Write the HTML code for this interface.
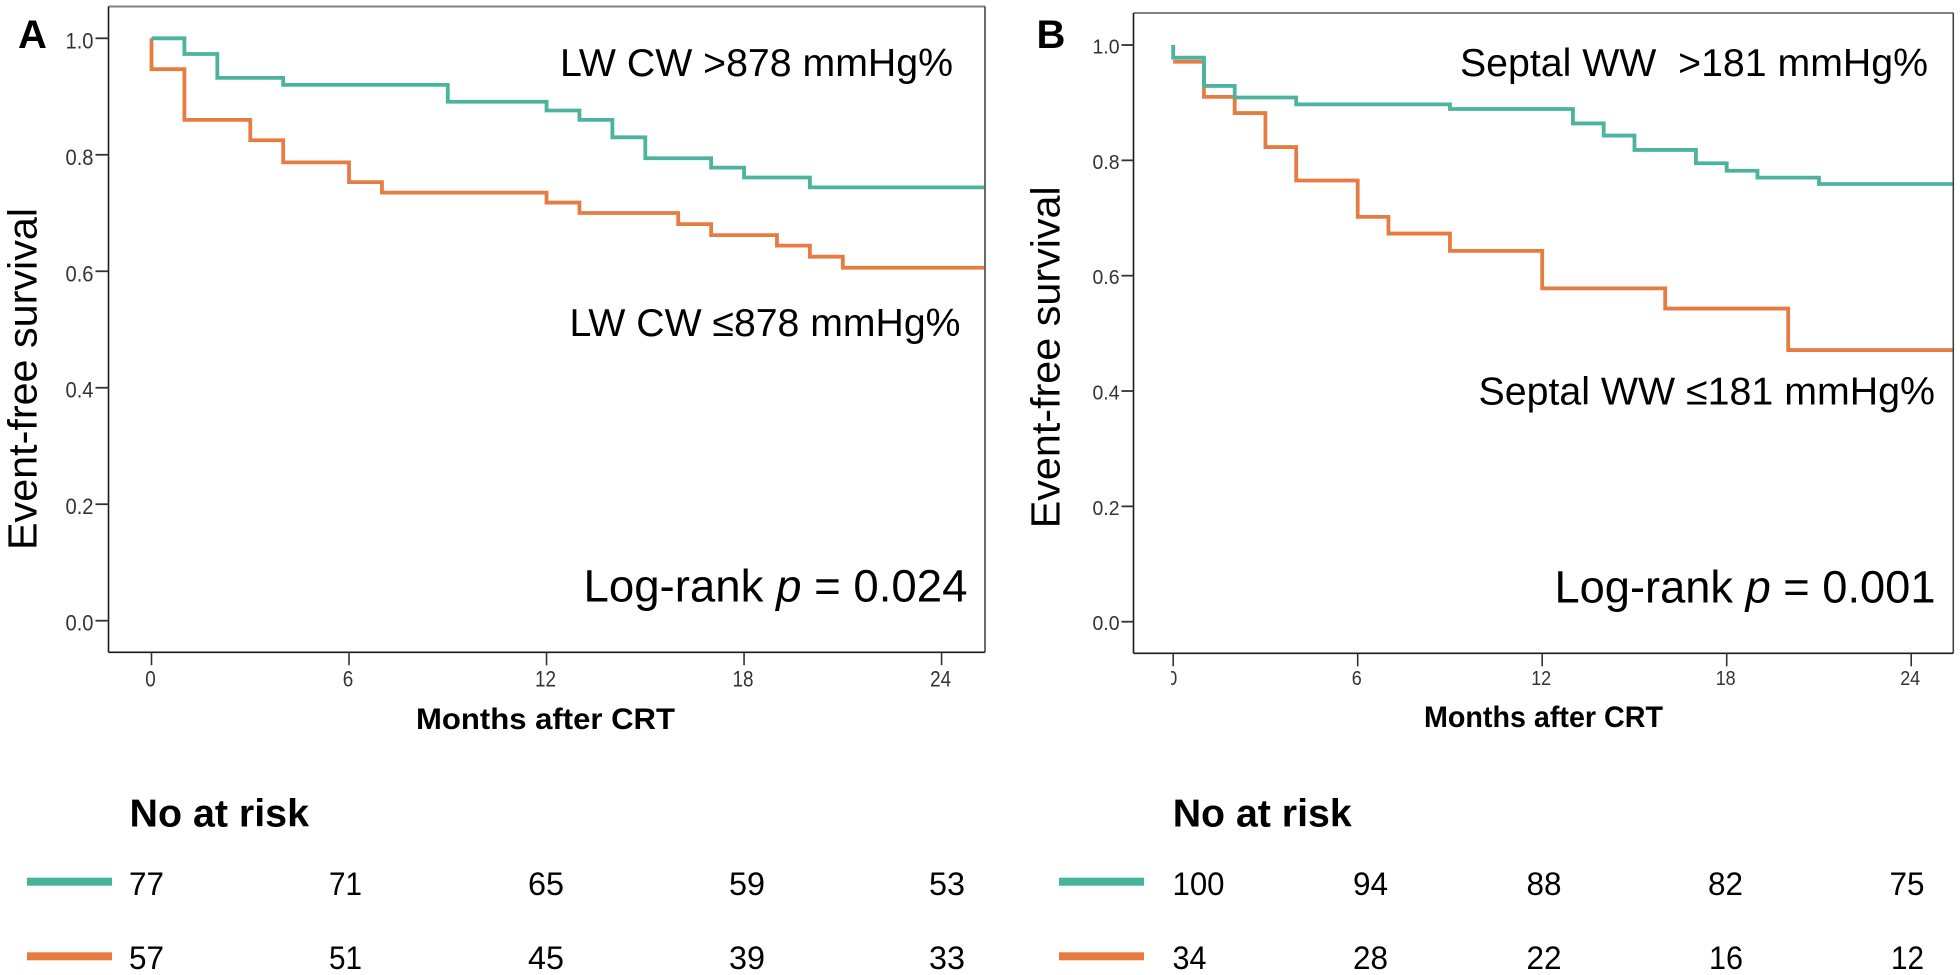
<!DOCTYPE html>
<html lang="en">
<head>
<meta charset="utf-8">
<title>Event-free survival curves</title>
<style>
html,body{margin:0;padding:0;background:#fff;width:1960px;height:975px;overflow:hidden}
svg{display:block}
text{font-family:"Liberation Sans",Arial,sans-serif;fill:#000}
.tick{fill:#333}
</style>
</head>
<body>
<svg id="figure" xmlns="http://www.w3.org/2000/svg" width="1960" height="975" viewBox="0 0 1960 975">
  <rect x="0" y="0" width="1960" height="975" fill="#fff"/>

  <g id="panel-a">
    <text x="18" y="48" font-size="40" font-weight="700">A</text>
    <text transform="translate(36.5 550) rotate(-90)" font-size="41" textLength="342" lengthAdjust="spacingAndGlyphs">Event-free survival</text>
    <text x="416" y="729" font-size="30" font-weight="700" textLength="259" lengthAdjust="spacingAndGlyphs">Months after CRT</text>
    <text x="560" y="76" font-size="39" textLength="393" lengthAdjust="spacingAndGlyphs">LW CW &gt;878 mmHg%</text>
    <text x="569.5" y="336" font-size="39" textLength="391" lengthAdjust="spacingAndGlyphs">LW CW ≤878 mmHg%</text>
    <text x="583.5" y="601.7" font-size="45" textLength="384" lengthAdjust="spacingAndGlyphs">Log-rank <tspan font-style="italic">p</tspan> = 0.024</text>

    <text x="129.5" y="826.7" font-size="39" font-weight="700" textLength="179.5" lengthAdjust="spacingAndGlyphs">No at risk</text>
    <rect x="27" y="877.7" width="85" height="8" fill="#45b39c"/>
    <rect x="27" y="952.3" width="85" height="8" fill="#e77b3f"/>
    <g font-size="32.5">
      <text x="129" y="895" textLength="35" lengthAdjust="spacingAndGlyphs">77</text>
      <text x="329" y="895" textLength="33" lengthAdjust="spacingAndGlyphs">71</text>
      <text x="528" y="895" textLength="36" lengthAdjust="spacingAndGlyphs">65</text>
      <text x="729" y="895" textLength="36" lengthAdjust="spacingAndGlyphs">59</text>
      <text x="929" y="895" textLength="36" lengthAdjust="spacingAndGlyphs">53</text>
    </g>
    <g font-size="32.5">
      <text x="129" y="969" textLength="35" lengthAdjust="spacingAndGlyphs">57</text>
      <text x="329" y="969" textLength="33" lengthAdjust="spacingAndGlyphs">51</text>
      <text x="528" y="969" textLength="36" lengthAdjust="spacingAndGlyphs">45</text>
      <text x="729" y="969" textLength="36" lengthAdjust="spacingAndGlyphs">39</text>
      <text x="929" y="969" textLength="36" lengthAdjust="spacingAndGlyphs">33</text>
    </g>
  </g>

  <g id="panel-b">
    <text x="1036.5" y="48" font-size="40" font-weight="700">B</text>
    <text transform="translate(1059.5 528.3) rotate(-90)" font-size="41" textLength="342" lengthAdjust="spacingAndGlyphs">Event-free survival</text>
    <text x="1424" y="727" font-size="30" font-weight="700" textLength="239" lengthAdjust="spacingAndGlyphs">Months after CRT</text>
    <text x="1460" y="76" font-size="39" textLength="468" lengthAdjust="spacingAndGlyphs" xml:space="preserve" style="white-space:pre">Septal WW  &gt;181 mmHg%</text>
    <text x="1478.5" y="404.3" font-size="39" textLength="456.5" lengthAdjust="spacingAndGlyphs">Septal WW ≤181 mmHg%</text>
    <text x="1554.5" y="602.3" font-size="45" textLength="381" lengthAdjust="spacingAndGlyphs">Log-rank <tspan font-style="italic">p</tspan> = 0.001</text>

    <text x="1172.7" y="826.7" font-size="39" font-weight="700" textLength="179" lengthAdjust="spacingAndGlyphs">No at risk</text>
    <rect x="1059" y="877.7" width="85" height="8" fill="#45b39c"/>
    <rect x="1059" y="952.3" width="85" height="8" fill="#e77b3f"/>
    <g font-size="32.5">
      <text x="1172.5" y="895" textLength="52" lengthAdjust="spacingAndGlyphs">100</text>
      <text x="1353" y="895" textLength="35" lengthAdjust="spacingAndGlyphs">94</text>
      <text x="1526.5" y="895" textLength="35" lengthAdjust="spacingAndGlyphs">88</text>
      <text x="1708" y="895" textLength="35" lengthAdjust="spacingAndGlyphs">82</text>
      <text x="1889.5" y="895" textLength="35" lengthAdjust="spacingAndGlyphs">75</text>
    </g>
    <g font-size="32.5">
      <text x="1172.5" y="969" textLength="34" lengthAdjust="spacingAndGlyphs">34</text>
      <text x="1353" y="969" textLength="35" lengthAdjust="spacingAndGlyphs">28</text>
      <text x="1526.5" y="969" textLength="35" lengthAdjust="spacingAndGlyphs">22</text>
      <text x="1709" y="969" textLength="34" lengthAdjust="spacingAndGlyphs">16</text>
      <text x="1891" y="969" textLength="33" lengthAdjust="spacingAndGlyphs">12</text>
    </g>
  </g>
</svg>

<script>
// Shared tick labels
const xTicks = [0, 6, 12, 18, 24];
const yTicks = [0, 0.2, 0.4, 0.6, 0.8, 1.0];

// Panel A: step curves (month of each drop, survival after the drop)
const aHighMonths = [0, 1, 2, 4, 9, 12, 13, 14, 15, 17, 18, 20];
const aHighSurvival = [1.0, 0.973, 0.932, 0.920, 0.891, 0.876, 0.860, 0.830, 0.794, 0.778, 0.761, 0.744];
const aLowMonths = [0, 0, 1, 3, 4, 6, 7, 12, 13, 16, 17, 19, 20, 21];
const aLowSurvival = [1.0, 0.947, 0.860, 0.825, 0.787, 0.753, 0.735, 0.718, 0.700, 0.681, 0.662, 0.644, 0.625, 0.606];

// Panel B: step curves
const bHighMonths = [0, 0, 1, 2, 4, 9, 13, 14, 15, 17, 18, 19, 21];
const bHighSurvival = [1.0, 0.978, 0.929, 0.909, 0.897, 0.889, 0.864, 0.843, 0.818, 0.795, 0.782, 0.770, 0.759];
const bLowMonths = [0, 1, 2, 3, 4, 6, 7, 9, 12, 16, 20];
const bLowSurvival = [0.971, 0.910, 0.882, 0.823, 0.765, 0.702, 0.673, 0.643, 0.578, 0.543, 0.471];

const SVG_NS = 'http://www.w3.org/2000/svg';

function makeAxes(left, top, right, bottom, x0, monthPx, y1, y0) {
  return {
    left: left, top: top, right: right, bottom: bottom,
    x: function (month) { return x0 + month * monthPx; },
    y: function (value) { return y0 + (y1 - y0) * value; }
  };
}

function addLine(parent, x1, y1, x2, y2, color, width) {
  const el = document.createElementNS(SVG_NS, 'line');
  el.setAttribute('x1', x1);
  el.setAttribute('y1', y1);
  el.setAttribute('x2', x2);
  el.setAttribute('y2', y2);
  el.setAttribute('stroke', color);
  el.setAttribute('stroke-width', width);
  parent.appendChild(el);
  return el;
}

function addTickLabel(parent, x, y, label, anchor, size, length) {
  const el = document.createElementNS(SVG_NS, 'text');
  el.setAttribute('x', x);
  el.setAttribute('y', y);
  el.setAttribute('class', 'tick');
  el.setAttribute('font-size', size);
  el.setAttribute('text-anchor', anchor);
  el.setAttribute('textLength', length);
  el.setAttribute('lengthAdjust', 'spacingAndGlyphs');
  el.textContent = label;
  parent.appendChild(el);
  return el;
}

function drawFrame(parent, ax) {
  const top = addLine(parent, ax.left, ax.top, ax.right, ax.top, '#808080', 2);
  
  
  const right = addLine(parent, ax.right, ax.top, ax.right, ax.bottom, '#3a3a3a', 1.5);
  
  
  const leftAxis = addLine(parent, ax.left, ax.top, ax.left, ax.bottom, '#1a1a1a', 1.6);
  
  
  const bottomAxis = addLine(parent, ax.left, ax.bottom, ax.right, ax.bottom, '#1a1a1a', 1.6);
  
  
}

function drawTicks(parent, ax, opt) {
  yTicks.forEach(function (v) {
    const py = ax.y(v);
    const t = addLine(parent, ax.left - opt.yTickLen, py, ax.left, py, '#333', 1.8);
    
    
    const l = addTickLabel(parent, ax.left - opt.yTickLen - 2, py + opt.yLabelDy, v.toFixed(1), 'end', opt.size, opt.yLabelLen);
    
    
  });
  xTicks.forEach(function (m) {
    const px = ax.x(m);
    const t = addLine(parent, px, ax.bottom, px, ax.bottom + 13, '#333', 1.6);
    
    
    const text = String(m);
    const l = addTickLabel(parent, px - 1, opt.xLabelY, text, 'middle', opt.size, text.length * opt.xDigit);
    
    
  });
}

function drawCurve(parent, ax, months, survival, endMonth, color, name) {
  let d = 'M' + ax.x(months[0]).toFixed(2) + ' ' + ax.y(survival[0]).toFixed(2);
  for (let i = 1; i < months.length; i++) {
    d += 'L' + ax.x(months[i]).toFixed(2) + ' ' + ax.y(survival[i - 1]).toFixed(2);
    d += 'L' + ax.x(months[i]).toFixed(2) + ' ' + ax.y(survival[i]).toFixed(2);
  }
  const lastY = ax.y(survival[survival.length - 1]).toFixed(2);
  d += 'L' + Math.min(ax.x(endMonth), ax.right - 0.8).toFixed(2) + ' ' + lastY;
  const el = document.createElementNS(SVG_NS, 'path');
  el.setAttribute('d', d);
  el.setAttribute('fill', 'none');
  el.setAttribute('stroke', color);
  el.setAttribute('stroke-width', 3.8);
  el.setAttribute('stroke-linejoin', 'miter');
  
  
  parent.appendChild(el);
}

const TEAL = '#4cb39e';
const ORANGE = '#e77c42';

const panelA = document.getElementById('panel-a');
const axesA = makeAxes(108.5, 6.5, 985, 652.3, 151.5, 32.92, 38.3, 620.7);
drawFrame(panelA, axesA);
drawTicks(panelA, axesA, { yTickLen: 13, yLabelDy: 10, yLabelLen: 28, size: 22, xLabelY: 686.5, xDigit: 10.5 });
drawCurve(panelA, axesA, aLowMonths, aLowSurvival, 30, ORANGE, 'curve-lw-cw-low');
drawCurve(panelA, axesA, aHighMonths, aHighSurvival, 30, TEAL, 'curve-lw-cw-high');

const panelB = document.getElementById('panel-b');
const axesB = makeAxes(1133.5, 13, 1953.3, 653.3, 1173.2, 30.75, 45, 621.7);
drawFrame(panelB, axesB);
drawTicks(panelB, axesB, { yTickLen: 12, yLabelDy: 8.5, yLabelLen: 27, size: 20, xLabelY: 685, xDigit: 10 });
drawCurve(panelB, axesB, bLowMonths, bLowSurvival, 30, ORANGE, 'curve-septal-ww-low');
drawCurve(panelB, axesB, bHighMonths, bHighSurvival, 30, TEAL, 'curve-septal-ww-high');

// The reference crops the left half of panel B's "0" tick label.
const mask = document.createElementNS(SVG_NS, 'rect');
mask.setAttribute('x', 1164);
mask.setAttribute('y', 668);
mask.setAttribute('width', 7);
mask.setAttribute('height', 20);
mask.setAttribute('fill', '#fff');


panelB.appendChild(mask);
</script>
</body>
</html>
